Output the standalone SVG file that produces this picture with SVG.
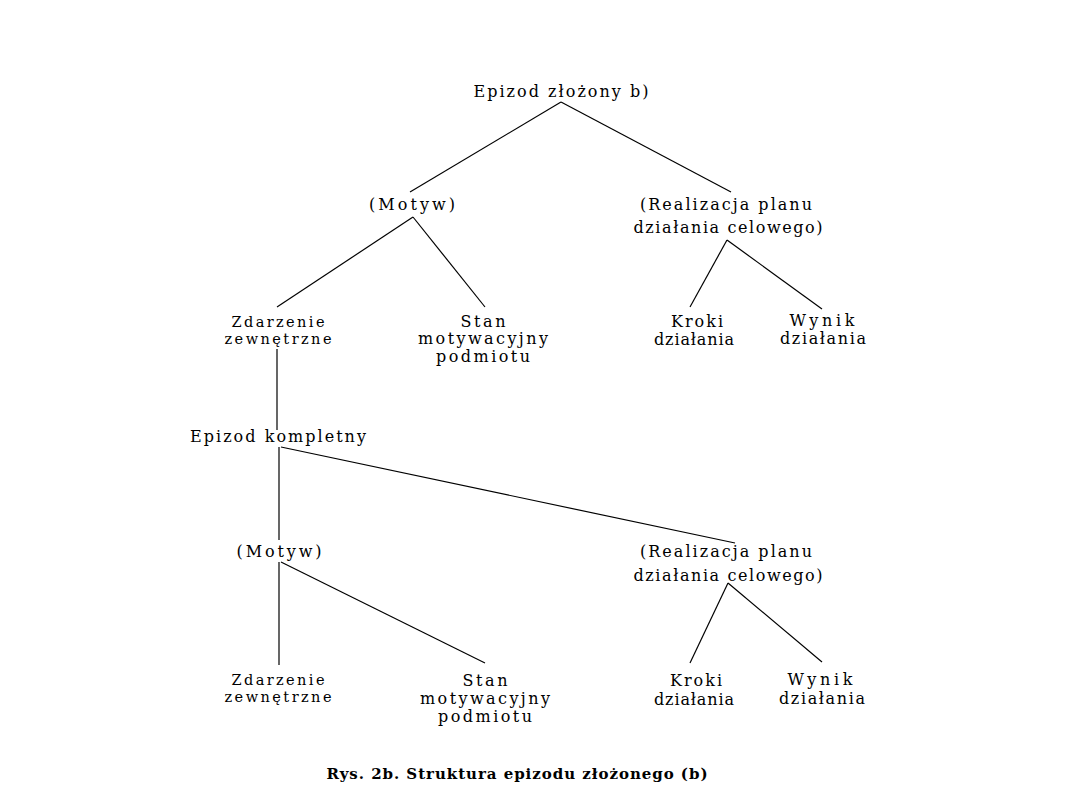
<svg xmlns="http://www.w3.org/2000/svg" width="1080" height="810" viewBox="0 0 1080 810">
<style>
text{font-family:"DejaVu Serif","Liberation Serif",serif;font-size:16px;fill:#000;text-anchor:middle}
.s{font-size:14.5px}
.cap{font-weight:bold;font-size:15px}
.c line{stroke:#000;stroke-width:1.2}
</style>
<rect width="1080" height="810" fill="#fff"/>
<g class="c" id="connectors">
<line x1="561" y1="102" x2="410" y2="192"/>
<line x1="561" y1="102" x2="731" y2="192"/>
<line x1="413" y1="217" x2="277" y2="307"/>
<line x1="413" y1="217" x2="485" y2="307"/>
<line x1="727" y1="240" x2="690" y2="307"/>
<line x1="727" y1="240" x2="822" y2="309"/>
<line x1="277" y1="349" x2="277" y2="430"/>
<line x1="279" y1="447" x2="279" y2="540"/>
<line x1="281" y1="447" x2="735" y2="543"/>
<line x1="279" y1="562" x2="279" y2="665"/>
<line x1="281" y1="562" x2="485" y2="663"/>
<line x1="728" y1="583" x2="690" y2="663"/>
<line x1="728" y1="583" x2="822" y2="662"/>
</g>
<g id="root"><text x="561" y="97" textLength="175" lengthAdjust="spacing">Epizod złożony b)</text></g>
<g id="motyw1"><text x="412" y="210" textLength="86" lengthAdjust="spacing">(Motyw)</text></g>
<g id="realizacja1"><text x="726" y="210" textLength="172" lengthAdjust="spacing">(Realizacja planu</text><text x="728" y="233" textLength="189" lengthAdjust="spacing">działania celowego)</text></g>
<g id="zdarzenie1"><text class="s" x="278" y="327" textLength="93" lengthAdjust="spacing">Zdarzenie</text><text class="s" x="278" y="344" textLength="107" lengthAdjust="spacing">zewnętrzne</text></g>
<g id="stan1"><text x="483" y="327" textLength="45" lengthAdjust="spacing">Stan</text><text x="483" y="344" textLength="130" lengthAdjust="spacing">motywacyjny</text><text x="483" y="362" textLength="94" lengthAdjust="spacing">podmiotu</text></g>
<g id="kroki1"><text x="697" y="327" textLength="52" lengthAdjust="spacing">Kroki</text><text x="694" y="345" textLength="80" lengthAdjust="spacing">działania</text></g>
<g id="wynik1"><text x="822" y="326" textLength="65" lengthAdjust="spacing">Wynik</text><text x="823" y="344" textLength="86" lengthAdjust="spacing">działania</text></g>
<g id="kompletny"><text x="278" y="442" textLength="176" lengthAdjust="spacing">Epizod kompletny</text></g>
<g id="motyw2"><text x="279" y="557" textLength="85" lengthAdjust="spacing">(Motyw)</text></g>
<g id="realizacja2"><text x="726" y="557" textLength="172" lengthAdjust="spacing">(Realizacja planu</text><text x="728" y="581" textLength="189" lengthAdjust="spacing">działania celowego)</text></g>
<g id="zdarzenie2"><text class="s" x="278" y="685" textLength="93" lengthAdjust="spacing">Zdarzenie</text><text class="s" x="278" y="702" textLength="107" lengthAdjust="spacing">zewnętrzne</text></g>
<g id="stan2"><text x="485" y="686" textLength="45" lengthAdjust="spacing">Stan</text><text x="485" y="704" textLength="130" lengthAdjust="spacing">motywacyjny</text><text x="485" y="722" textLength="94" lengthAdjust="spacing">podmiotu</text></g>
<g id="kroki2"><text x="696" y="686" textLength="52" lengthAdjust="spacing">Kroki</text><text x="694" y="705" textLength="80" lengthAdjust="spacing">działania</text></g>
<g id="wynik2"><text x="820" y="685" textLength="65" lengthAdjust="spacing">Wynik</text><text x="822" y="704" textLength="86" lengthAdjust="spacing">działania</text></g>
<g id="caption"><text class="cap" x="517" y="779" textLength="381" lengthAdjust="spacing">Rys. 2b. Struktura epizodu złożonego (b)</text></g>
</svg>
